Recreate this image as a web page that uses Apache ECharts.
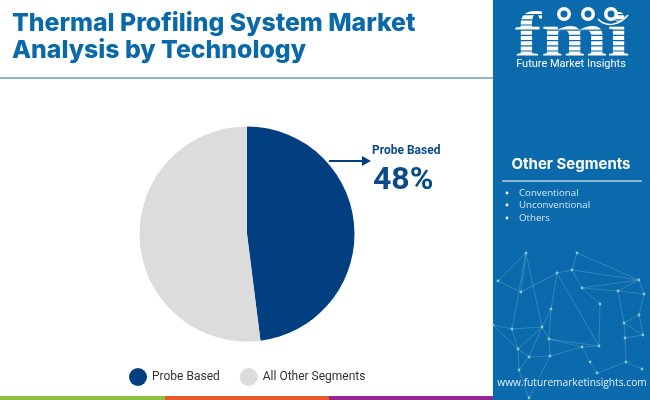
<!DOCTYPE html>
<html>
<head>
<meta charset="utf-8">
<style>html,body{margin:0;padding:0;background:#fff}#chart{width:650px;height:400px}</style>
<script src="https://cdn.jsdelivr.net/npm/echarts@6/dist/echarts.min.js"></script>
</head>
<body>
<div id="chart"></div>
<script>
var categories = ['Probe Based', 'All Other Segments'];
var shares = [48, 52];
var sliceColors = ['#013f80', '#dcdcdc'];
var titleLines = ['Thermal Profiling System Market', 'Analysis by Technology'];
var otherSegments = ['Conventional', 'Unconventional', 'Others'];
var otherRows = [193, 205, 218];
var stripes = [[0, '#8dc03f'], [165, '#e8582a'], [329, '#93278f']];

// background network in the side panel, just decoration
var netNodes = [[526,253],[577,253],[498,281],[521,292],[557,273],[572,270],[639,280],[582,288],[618,291],[644,294],[600,304],[551,309],[639,315],[624,323],[512,329],[542,327],[643,335],[625,338],[549,339],[599,346],[582,347],[518,349],[529,357],[550,356],[626,362],[590,362],[519,370],[642,369],[597,373],[529,398],[493,325]];
var netEdges = [[0,3],[0,2],[0,15],[2,3],[3,4],[4,5],[5,6],[1,6],[1,5],[4,11],[4,19],[5,7],[7,6],[7,8],[8,6],[8,9],[6,9],[7,10],[8,13],[9,12],[12,13],[13,16],[12,16],[11,15],[15,14],[14,30],[11,18],[15,18],[18,19],[20,19],[20,18],[15,21],[14,21],[21,22],[22,23],[18,23],[23,20],[20,25],[25,28],[21,26],[22,26],[26,29],[23,29],[13,17],[17,16],[17,24],[24,27],[24,28],[10,19],[0,14],[22,15],[30,21]];

var graphics = [];

function addText(text, x, y, fill, font, align) {
    graphics.push({ type: 'text', silent: true, z: 5, style: { text: text, x: x, y: y, fill: fill, font: font, align: align || 'left', verticalAlign: 'middle' } });
}

graphics.push({ type: 'rect', silent: true, z: 1, shape: { x: 493, y: 0, width: 157, height: 400 }, style: { fill: '#0a6aab' } });
graphics.push({ type: 'rect', silent: true, z: 1, shape: { x: 0, y: 77, width: 493, height: 2 }, style: { fill: '#8fb6cd' } });
stripes.forEach(function (s, i) {
    var end = i < stripes.length - 1 ? stripes[i + 1][0] : 493;
    graphics.push({ type: 'rect', silent: true, z: 1, shape: { x: s[0], y: 396, width: end - s[0], height: 4 }, style: { fill: s[1] } });
});

titleLines.forEach(function (t, i) {
    addText(t, 12, 24 + i * 27, '#0a69a8', '800 24.8px Inter');
});

netEdges.forEach(function (e) {
    var a = netNodes[e[0]], b = netNodes[e[1]];
    graphics.push({ type: 'line', silent: true, z: 2, shape: { x1: a[0], y1: a[1], x2: b[0], y2: b[1] }, style: { stroke: 'rgba(150,215,235,0.38)', lineWidth: 0.7 } });
});
netNodes.forEach(function (n) {
    graphics.push({ type: 'circle', silent: true, z: 2, shape: { cx: n[0], cy: n[1], r: 1.4 }, style: { fill: 'rgba(170,215,200,0.8)' } });
});

// logo
graphics.push({ type: 'text', silent: true, z: 5, originX: 572, originY: 39, scaleX: 1.24, style: { text: 'fmi', x: 572, y: 39, fill: '#fff', font: 'bold 64px "Liberation Serif"', align: 'center', verticalAlign: 'middle' } });
for (var y = 14; y < 58; y += 5.2) {
    graphics.push({ type: 'rect', silent: true, z: 6, shape: { x: 512, y: y, width: 120, height: 1.2 }, style: { fill: '#0a6aab' } });
}
[564, 588, 611].forEach(function (cx) {
    graphics.push({ type: 'circle', silent: true, z: 7, shape: { cx: cx, cy: 14, r: 7 }, style: { fill: '#fff' } });
    graphics.push({ type: 'circle', silent: true, z: 8, shape: { cx: cx, cy: 14, r: 3.5 }, style: { fill: '#0a6aab' } });
});
graphics.push({ type: 'bezierCurve', silent: true, z: 7, shape: { x1: 598, y1: 19, cpx1: 606, cpy1: 28, cpx2: 620, cpy2: 25, x2: 628, y2: 15 }, style: { stroke: '#fff', lineWidth: 1.5, fill: 'none' } });
addText('Future Market Insights', 571, 64, '#fff', '11px Roboto', 'center');

// side list
addText('Other Segments', 571, 164, '#fff', 'bold 15px Inter', 'center');
graphics.push({ type: 'rect', silent: true, z: 5, shape: { x: 502, y: 180, width: 140, height: 2 }, style: { fill: '#8ab8dc' } });
otherSegments.forEach(function (s, i) {
    graphics.push({ type: 'circle', silent: true, z: 5, shape: { cx: 507, cy: otherRows[i], r: 1.4 }, style: { fill: '#fff' } });
    addText(s, 519, otherRows[i], '#d5e6f4', '9.7px "Open Sans"');
});
addText('www.futuremarketinsights.com', 572, 383, '#e4f0f8', '10.2px "Open Sans"', 'center');

// callout
graphics.push({ type: 'line', silent: true, z: 5, shape: { x1: 329, y1: 161, x2: 364, y2: 161 }, style: { stroke: '#013f80', lineWidth: 2 } });
graphics.push({ type: 'polygon', silent: true, z: 5, shape: { points: [[362, 156], [371, 161], [362, 166]] }, style: { fill: '#013f80' } });
addText(categories[0], 372, 151, '#0b4a8a', 'bold 12px Roboto');
addText(shares[0] + '%', 373, 181, '#0b4a8a', 'bold 32px Roboto');

var chart = echarts.init(document.getElementById('chart'));

var option = {
    animation: false,
    legend: {
        data: categories,
        left: 129,
        top: 368,
        padding: 0,
        icon: 'circle',
        itemWidth: 18,
        itemHeight: 18,
        itemGap: 20,
        textStyle: { fontFamily: 'Roboto', fontSize: 12, color: '#333' }
    },
    graphic: graphics,
    series: [
        {
            type: 'pie',
            center: [247, 234],
            radius: [0, 107.5],
            startAngle: 90,
            clockwise: true,
            label: { show: false },
            labelLine: { show: false },
            silent: true,
            data: categories.map(function (c, i) {
                return { name: c, value: shares[i], itemStyle: { color: sliceColors[i] } };
            })
        }
    ]
};

chart.setOption(option);
</script>
</body>
</html>
